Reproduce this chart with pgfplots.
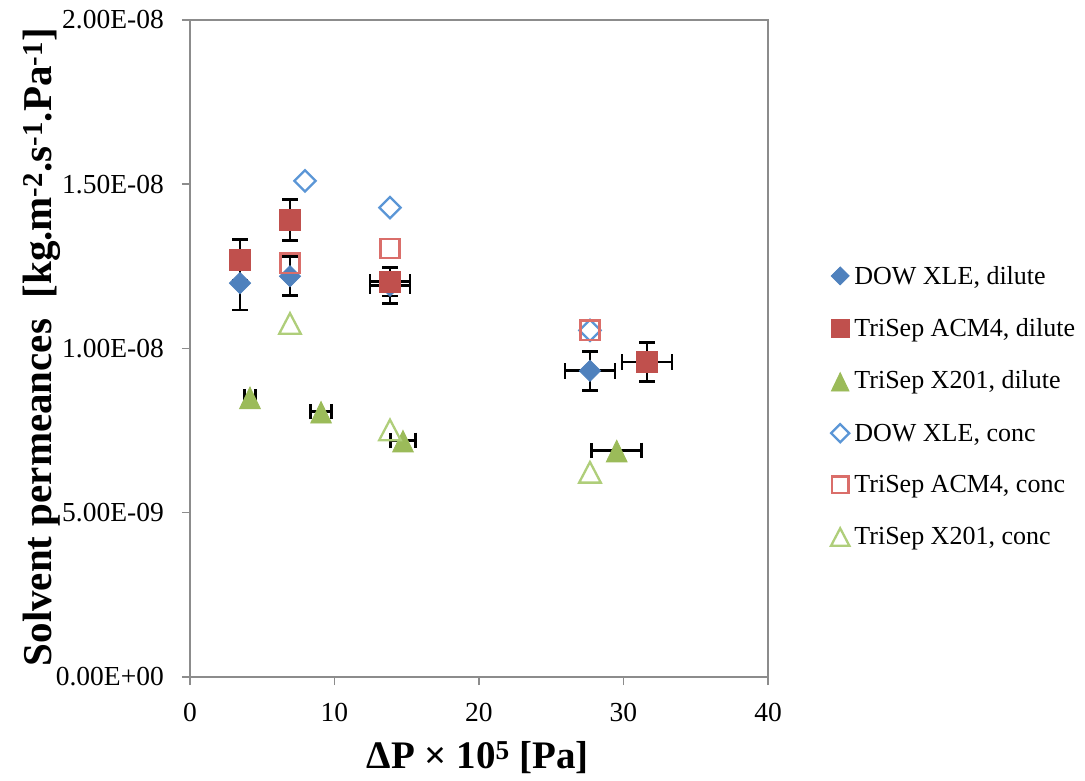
\documentclass[border=0pt]{standalone}
\usepackage{fontspec}
\setmainfont{Liberation Serif}
\usepackage{pgfplots}
\pgfplotsset{compat=1.18}
\usepackage{pgfplotstable}
\definecolor{cblue}{HTML}{4F81BD}
\definecolor{cred}{HTML}{C0504D}
\definecolor{cgreen}{HTML}{9BBB59}
\definecolor{oblue}{HTML}{5B96D6}
\definecolor{ored}{HTML}{DA6E6A}
\definecolor{ogreen}{HTML}{AFCE7A}
\definecolor{axgray}{HTML}{8C8C8C}

\pgfplotstableread{
x y ex ey
3.46 1.199e-8 0 0.082e-8
6.92 1.220e-8 0 0.059e-8
13.84 1.191e-8 1.38 0.055e-8
27.68 0.932e-8 1.73 0.059e-8
}\dowdil
\pgfplotstableread{
x y ex ey
3.46 1.269e-8 0 0.063e-8
6.92 1.391e-8 0 0.063e-8
13.84 1.203e-8 1.38 0.043e-8
31.63 0.959e-8 1.73 0.060e-8
}\acmdil
\pgfplotstableread{
x y ex
4.15 0.852e-8 0.39
9.07 0.808e-8 0.75
14.74 0.720e-8 0.87
29.53 0.690e-8 1.73
}\xdil
\pgfplotstableread{
x y
7.96 1.510e-8
13.84 1.429e-8
27.68 1.055e-8
}\dowconc
\pgfplotstableread{
x y
6.92 1.260e-8
13.84 1.304e-8
27.68 1.056e-8
}\acmconc
\pgfplotstableread{
x y
6.92 1.077e-8
13.84 0.753e-8
27.68 0.624e-8
}\xconc

\pgfplotsset{
  myleg/.style={legend image code/.code={\draw[##1, every mark/.append style={scale=0.85}] plot coordinates {(8bp,0bp)};}},
  error bars/myerr/.style={error bar style={draw=black, line width=2.8bp},
    error mark=|, error mark options={draw=black, line width=2.8bp, mark size=7.8bp}},
}

\begin{document}
\begin{tikzpicture}
\path[use as bounding box] (-190bp,-104bp) rectangle (895bp,677bp);
\begin{axis}[
  scale only axis, width=578bp, height=657bp,
  xmin=0, xmax=40, ymin=0, ymax=2e-8,
  xtick={0,10,20,30,40}, xticklabels={0,10,20,30,40},
  ytick={0,5e-9,1e-8,1.5e-8,2e-8},
  yticklabels={0.00E+00,5.00E-09,1.00E-08,1.50E-08,2.00E-08},
  scaled y ticks=false, scaled x ticks=false,
  /pgf/number format/assume math mode=true,
  axis line style={axgray, line width=1.5bp},
  major tick style={axgray, line width=1.5bp},
  tick align=outside, major tick length=8bp,
  xtick pos=bottom, ytick pos=left,
  ticklabel style={font=\fontsize{27.5bp}{32bp}\selectfont, text=black},
  yticklabel style={inner sep=0pt, xshift=-18bp},
  xticklabel style={inner sep=0pt, yshift=-18bp},
  xlabel={\textbf{ΔP × 10\textsuperscript{5} [Pa]}},
  ylabel={\textbf{Solvent permeances~~[kg.m\textsuperscript{-2}.s\textsuperscript{-1}.Pa\textsuperscript{-1}]}},
  every axis x label/.style={at={(axis description cs:0.498,-0.140)}, anchor=base, font=\fontsize{39bp}{44bp}\selectfont},
  every axis y label/.style={at={(axis description cs:-0.240,0.502)}, anchor=base, rotate=90, font=\fontsize{41bp}{46bp}\selectfont},
  legend style={at={(axis description cs:1.1090,0.4125)}, anchor=west, draw=none, fill=none,
    inner sep=0pt, outer sep=0pt, font=\fontsize{26bp}{30bp}\selectfont,
    row sep=32.8bp, column sep=5bp, nodes={inner sep=0pt}},
  legend cell align=left,
  myleg,
]
% error bars first (drawn beneath the markers)
\addplot[draw=none, mark=none, forget plot,
  error bars/.cd, x dir=both, x explicit, y dir=both, y explicit, myerr]
  table[x=x, y=y, x error=ex, y error=ey] {\dowdil};
\addplot[draw=none, mark=none, forget plot,
  error bars/.cd, x dir=both, x explicit, y dir=both, y explicit, myerr]
  table[x=x, y=y, x error=ex, y error=ey] {\acmdil};
\addplot[draw=none, mark=none, forget plot,
  error bars/.cd, x dir=both, x explicit, myerr]
  table[x=x, y=y, x error=ex] {\xdil};
% markers
\addplot[only marks, mark=square*, mark size=7.5bp,
  mark options={rotate=45, fill=cblue, draw=cblue, line width=0.8bp}]
  table[x=x, y=y] {\dowdil};
\addlegendentry{DOW XLE, dilute}
\addplot[only marks, mark=square*, mark size=10.4bp,
  mark options={fill=cred, draw=cred, line width=0.8bp}]
  table[x=x, y=y] {\acmdil};
\addlegendentry{TriSep ACM4, dilute}
\addplot[only marks, mark=triangle*, mark size=12bp,
  mark options={yscale=1.2, yshift=-3.6bp, fill=cgreen, draw=cgreen, line width=0.8bp}]
  table[x=x, y=y] {\xdil};
\addlegendentry{TriSep X201, dilute}
\addplot[only marks, mark=square, mark size=7.5bp,
  mark options={rotate=45, draw=oblue, line width=2.3bp}]
  table[x=x, y=y] {\dowconc};
\addlegendentry{DOW XLE, conc}
\addplot[only marks, mark=square, mark size=9.6bp,
  mark options={draw=ored, line width=2.3bp}]
  table[x=x, y=y] {\acmconc};
\addlegendentry{TriSep ACM4, conc}
\addplot[only marks, mark=triangle, mark size=12.5bp,
  mark options={yscale=1.1, yshift=-3.4bp, draw=ogreen, line width=2.3bp}]
  table[x=x, y=y] {\xconc};
\addlegendentry{TriSep X201, conc}
\end{axis}
\draw[axgray, line width=1.5bp] (0,0) rectangle (578bp,657bp);
\end{tikzpicture}
\end{document}
